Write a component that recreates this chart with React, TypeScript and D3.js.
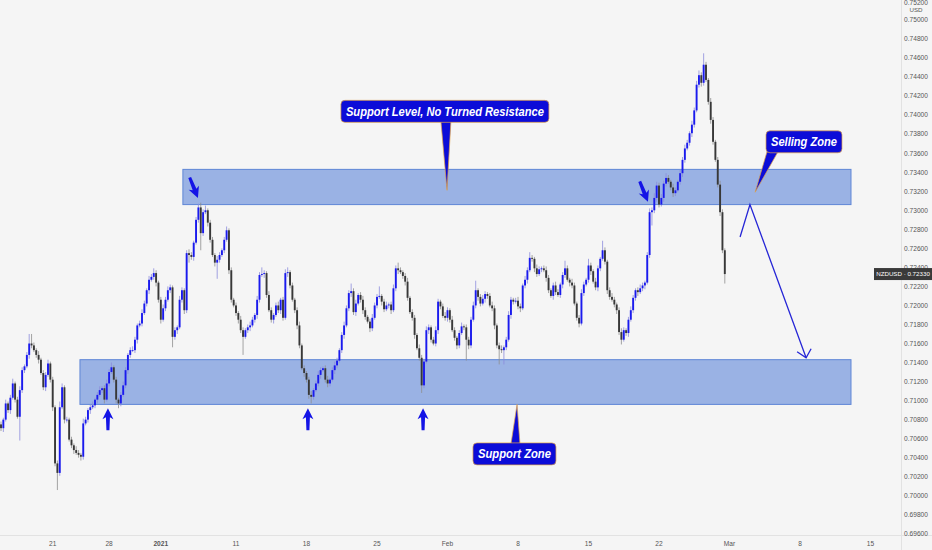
import * as d3 from "d3";
import React, { useRef, useEffect } from "react";

// NZDUSD 4H candles, closes in pips (0.0001)
const firstOpen = 7075;
const closePips = [
  7071, 7080, 7097, 7090, 7103, 7118, 7101, 7083, 7111, 7132,
  7136, 7148, 7160, 7158, 7153, 7148, 7143, 7129, 7114, 7127,
  7139, 7122, 7093, 7034, 7024, 7093, 7114, 7080, 7080, 7059,
  7053, 7048, 7045, 7043, 7041, 7076, 7080, 7090, 7093, 7095,
  7101, 7106, 7111, 7113, 7101, 7118, 7130, 7135, 7122, 7101,
  7097, 7106, 7116, 7132, 7148, 7153, 7153, 7164, 7179, 7181,
  7192, 7202, 7216, 7227, 7230, 7234, 7224, 7206, 7185, 7197,
  7206, 7216, 7219, 7167, 7174, 7177, 7206, 7216, 7195, 7255,
  7253, 7251, 7266, 7290, 7303, 7276, 7298, 7300, 7287, 7269,
  7253, 7245, 7248, 7253, 7258, 7269, 7279, 7237, 7206, 7200,
  7192, 7185, 7174, 7167, 7174, 7177, 7179, 7185, 7190, 7206,
  7232, 7233, 7234, 7211, 7195, 7185, 7190, 7200, 7195, 7206,
  7187, 7234, 7235, 7221, 7206, 7195, 7179, 7158, 7134, 7129,
  7122, 7106, 7104, 7111, 7118, 7127, 7132, 7134, 7122, 7118,
  7122, 7132, 7137, 7142, 7153, 7169, 7179, 7197, 7213, 7215,
  7193, 7202, 7211, 7206, 7195, 7188, 7183, 7176, 7187, 7200,
  7209, 7210, 7204, 7196, 7200, 7201, 7195, 7218, 7239, 7237,
  7235, 7231, 7225, 7208, 7193, 7187, 7169, 7155, 7145, 7116,
  7141, 7174, 7177, 7164, 7160, 7174, 7204, 7199, 7189, 7187,
  7195, 7185, 7174, 7166, 7158, 7171, 7178, 7177, 7164, 7158,
  7185, 7200, 7216, 7209, 7202, 7207, 7212, 7210, 7200, 7197,
  7179, 7158, 7154, 7153, 7156, 7164, 7190, 7206, 7204, 7205,
  7199, 7197, 7221, 7227, 7237, 7250, 7249, 7239, 7233, 7238,
  7239, 7237, 7229, 7216, 7210, 7221, 7214, 7211, 7222, 7232,
  7239, 7227, 7224, 7221, 7202, 7187, 7181, 7213, 7222, 7227,
  7242, 7236, 7225, 7219, 7239, 7249, 7258, 7246, 7216, 7209,
  7206, 7201, 7195, 7172, 7164, 7174, 7171, 7185, 7195, 7208,
  7216, 7214, 7218, 7221, 7224, 7253, 7298, 7300, 7313, 7326,
  7306, 7313, 7328, 7334, 7330, 7324, 7318, 7321, 7330, 7339,
  7353, 7365, 7371, 7381, 7390, 7405, 7432, 7442, 7434, 7453,
  7437, 7414, 7395, 7372, 7353, 7327, 7298, 7258, 7233,
];
const wickUpPips = [
  3, 2, 4, 2, 3, 5, 2, 3, 4, 3,
  2, 3, 10, 10, 3, 2, 4, 2, 3, 3,
  4, 2, 3, 2, 3, 6, 4, 2, 3, 2,
  3, 2, 4, 3, 2, 5, 3, 2, 3, 4,
  2, 3, 4, 2, 3, 4, 3, 5, 2, 3,
  2, 3, 4, 3, 2, 3, 4, 3, 2, 3,
  4, 3, 2, 4, 3, 5, 3, 2, 3, 4,
  3, 4, 3, 2, 3, 2, 4, 3, 2, 3,
  4, 3, 2, 3, 4, 5, 3, 5, 2, 3,
  3, 2, 4, 3, 2, 3, 4, 2, 3, 2,
  3, 2, 4, 3, 2, 3, 4, 3, 2, 4,
  3, 7, 3, 2, 4, 3, 2, 3, 4, 2,
  3, 4, 5, 2, 3, 2, 3, 4, 2, 3,
  2, 3, 4, 2, 3, 4, 3, 2, 3, 4,
  2, 3, 4, 3, 2, 3, 4, 3, 3, 8,
  3, 4, 2, 3, 4, 3, 2, 3, 4, 3,
  3, 10, 2, 3, 4, 2, 3, 4, 3, 6,
  3, 2, 3, 4, 2, 3, 3, 2, 4, 3,
  3, 4, 3, 2, 3, 4, 3, 2, 3, 4,
  3, 2, 4, 3, 2, 3, 4, 2, 3, 3,
  3, 4, 10, 2, 3, 4, 3, 2, 3, 4,
  3, 2, 3, 4, 2, 3, 4, 3, 2, 3,
  4, 3, 2, 4, 3, 6, 3, 2, 4, 3,
  2, 3, 4, 3, 2, 3, 4, 3, 2, 3,
  8, 3, 2, 4, 3, 2, 3, 4, 3, 2,
  7, 3, 2, 4, 3, 2, 10, 3, 2, 3,
  4, 3, 2, 3, 4, 3, 2, 3, 4, 3,
  2, 3, 4, 3, 2, 3, 4, 3, 5, 4,
  3, 4, 3, 5, 3, 2, 4, 3, 2, 4,
  3, 4, 3, 2, 4, 3, 4, 5, 3, 12,
  3, 2, 4, 3, 2, 3, 4, 3, 2,
];
const wickDownPips = [
  3, 4, 2, 3, 4, 2, 3, 2, 25, 3,
  3, 2, 4, 3, 2, 3, 4, 2, 3, 4,
  2, 3, 4, 3, 18, 3, 2, 4, 3, 2,
  3, 4, 2, 3, 4, 3, 2, 3, 4, 2,
  3, 4, 2, 3, 4, 2, 3, 2, 3, 4,
  5, 3, 2, 3, 4, 3, 2, 3, 4, 2,
  3, 2, 3, 4, 2, 3, 4, 3, 4, 2,
  3, 2, 3, 11, 3, 4, 2, 3, 4, 3,
  8, 3, 4, 2, 3, 18, 3, 2, 4, 3,
  2, 4, 17, 3, 2, 3, 2, 4, 3, 2,
  3, 4, 3, 19, 2, 3, 4, 2, 3, 4,
  3, 2, 4, 3, 2, 3, 4, 2, 3, 4,
  3, 2, 4, 3, 2, 3, 4, 3, 2, 4,
  3, 4, 7, 3, 2, 3, 4, 2, 3, 4,
  3, 2, 4, 3, 2, 3, 4, 2, 3, 4,
  3, 4, 2, 3, 4, 3, 2, 4, 3, 2,
  3, 2, 4, 3, 2, 3, 4, 2, 3, 4,
  2, 3, 4, 3, 2, 3, 4, 2, 3, 8,
  3, 2, 4, 3, 2, 3, 4, 3, 2, 3,
  4, 3, 2, 3, 4, 3, 2, 3, 22, 4,
  3, 2, 3, 4, 3, 2, 4, 3, 2, 3,
  4, 3, 16, 3, 15, 3, 2, 4, 3, 2,
  3, 4, 2, 3, 4, 2, 3, 4, 3, 2,
  3, 2, 4, 3, 2, 4, 3, 2, 3, 4,
  3, 2, 4, 3, 2, 3, 4, 2, 3, 2,
  3, 4, 2, 3, 4, 3, 2, 3, 4, 3,
  2, 3, 4, 3, 5, 2, 3, 4, 2, 3,
  3, 4, 2, 3, 4, 2, 3, 14, 3, 4,
  3, 2, 4, 3, 2, 3, 4, 3, 2, 3,
  4, 3, 2, 3, 4, 3, 2, 3, 4, 3,
  2, 3, 4, 3, 2, 3, 4, 3, 10,
];

// time axis: bar index of each label
const timeTickBars = [22, 46, 68, 100, 130, 160, 190, 220, 250, 280, 310, 340, 370];
const timeTickLabels = ["21", "28", "2021", "11", "18", "25", "Feb", "8", "15", "22", "Mar", "8", "15"];

const priceTicks = [
  0.696, 0.698, 0.7, 0.702, 0.704, 0.706, 0.708, 0.71, 0.712, 0.714,
  0.716, 0.718, 0.72, 0.722, 0.724, 0.726, 0.728, 0.73, 0.732, 0.734,
  0.736, 0.738, 0.74, 0.742, 0.744, 0.746, 0.748, 0.75, 0.752,
];
const lastPrice = 0.7233;

// zones (bar from / to, price high / low)
const zoneFrom = [77.4, 33.6];
const zoneTo = [361.7, 361.7];
const zoneHigh = [0.7343, 0.7143];
const zoneLow = [0.7306, 0.7096];

// marker arrows
const upArrowBars = [45.5, 130.6, 179.6];
const upArrowPrice = 0.7092;
const downArrowBars = [83.8, 275.3];
const downArrowPrices = [0.7313, 0.7309];

// projected path
const pathBars = [314.5, 318.7, 342.6];
const pathPrices = [0.7272, 0.7306, 0.7145];

const calloutTexts = ["Support Level, No Turned Resistance", "Selling Zone", "Support Zone"];
const calloutTipBars = [189.8, 320.9, 219.6];
const calloutTipPrices = [0.7321, 0.7319, 0.7096];
const calloutBoxBars = [188.9, 341.7, 218.5];
const calloutBoxPrices = [0.7404, 0.7372, 0.7044];

const BLUE = "#1a1aee";
const DOWN = "#383838";
const ARROW_PATH = "M0,0 L5.5,11 L2,9 L1.5,22 L-1.5,22 L-2,9 L-5.5,11 Z";

const drawChart = (node: any) => {
  const svg = d3.select(node);
  svg.selectAll("*").remove();

  const x = d3.scaleLinear().domain([0, 308]).range([1, 1 + 308 * 2.35]);
  const y = d3.scaleLinear().domain([0.696, 0.75]).range([533.8, 20]);

  svg.append("rect").attr("width", 932).attr("height", 550).attr("fill", "#f5f5f5");

  // zones
  zoneFrom.forEach((f, k) => {
    svg
      .append("rect")
      .attr("x", x(f))
      .attr("y", y(zoneHigh[k]))
      .attr("width", x(zoneTo[k]) - x(f))
      .attr("height", y(zoneLow[k]) - y(zoneHigh[k]))
      .attr("fill", "#9ab2e4")
      .attr("stroke", "#5f86d6")
      .attr("stroke-width", 1);
  });

  // candles
  const candles = closePips.map((c, i) => {
    const o = i === 0 ? firstOpen : closePips[i - 1];
    return {
      i,
      o: o / 10000,
      c: c / 10000,
      h: (Math.max(o, c) + wickUpPips[i]) / 10000,
      l: (Math.min(o, c) - wickDownPips[i]) / 10000,
    };
  });
  const cg = svg.append("g");
  cg.selectAll("line")
    .data(candles)
    .enter()
    .append("line")
    .attr("x1", (d: any) => x(d.i))
    .attr("x2", (d: any) => x(d.i))
    .attr("y1", (d: any) => y(d.h))
    .attr("y2", (d: any) => y(d.l))
    .attr("stroke", (d: any) => (d.c >= d.o ? "#8c8cdc" : "#8e8e8e"))
    .attr("stroke-width", 0.8);
  cg.selectAll("rect")
    .data(candles)
    .enter()
    .append("rect")
    .attr("x", (d: any) => x(d.i) - 0.95)
    .attr("width", 1.9)
    .attr("y", (d: any) => y(Math.max(d.o, d.c)))
    .attr("height", (d: any) => Math.max(0.8, Math.abs(y(d.o) - y(d.c))))
    .attr("fill", (d: any) => (d.c >= d.o ? BLUE : DOWN));

  // arrows
  upArrowBars.forEach((b) => {
    svg
      .append("path")
      .attr("d", ARROW_PATH)
      .attr("transform", `translate(${x(b)},${y(upArrowPrice)})`)
      .attr("fill", "#1414e6");
  });
  downArrowBars.forEach((b, k) => {
    svg
      .append("path")
      .attr("d", ARROW_PATH)
      .attr("transform", `translate(${x(b)},${y(downArrowPrices[k])}) rotate(158)`)
      .attr("fill", "#1414e6");
  });

  // projection
  const line = d3
    .line<number>()
    .x((b) => x(b))
    .y((_, k) => y(pathPrices[k]));
  svg
    .append("path")
    .attr("d", line(pathBars))
    .attr("fill", "none")
    .attr("stroke", "#2626d6")
    .attr("stroke-width", 1.3);
  const tipX = x(pathBars[2]);
  const tipY = y(pathPrices[2]);
  svg
    .append("path")
    .attr("d", `M${tipX - 9},${tipY - 6} L${tipX},${tipY} L${tipX + 5},${tipY - 9}`)
    .attr("fill", "none")
    .attr("stroke", "#2626d6")
    .attr("stroke-width", 1.3);

  // callouts
  const boxW = [208, 76, 83];
  const boxH = 22;
  const tailBase = [
    [-4, 6],
    [-37, -26],
    [-3.5, 5.5],
  ];
  calloutTexts.forEach((t, k) => {
    const cx = x(calloutBoxBars[k]);
    const cy = y(calloutBoxPrices[k]);
    const tx = x(calloutTipBars[k]);
    const ty = y(calloutTipPrices[k]);
    const edgeY = ty > cy ? cy + boxH / 2 - 1 : cy - boxH / 2 + 1;
    svg
      .append("path")
      .attr("d", `M${cx + tailBase[k][0]},${edgeY} L${tx},${ty} L${cx + tailBase[k][1]},${edgeY} Z`)
      .attr("fill", "#0c0cd8")
      .attr("stroke", "#e3a446")
      .attr("stroke-width", 0.7);
    svg
      .append("rect")
      .attr("x", cx - boxW[k] / 2)
      .attr("y", cy - boxH / 2)
      .attr("width", boxW[k])
      .attr("height", boxH)
      .attr("rx", 4)
      .attr("fill", "#0c0cd8")
      .attr("stroke", "#e3a446")
      .attr("stroke-width", 0.7);
    svg
      .append("text")
      .attr("x", cx)
      .attr("y", cy + 4.3)
      .attr("text-anchor", "middle")
      .attr("fill", "#fff")
      .attr("font-family", "'Liberation Sans', Arial, sans-serif")
      .attr("font-weight", "bold")
      .attr("font-style", "italic")
      .attr("font-size", 12.5)
      .attr("textLength", boxW[k] - 10)
      .attr("lengthAdjust", "spacingAndGlyphs")
      .text(t);
  });

  // price axis
  svg.append("line").attr("x1", 901.5).attr("x2", 901.5).attr("y1", 0).attr("y2", 550).attr("stroke", "#e2e2e2");
  svg.append("line").attr("x1", 0).attr("x2", 932).attr("y1", 535.5).attr("y2", 535.5).attr("stroke", "#e2e2e2");
  const axisFont = "'Liberation Sans', Arial, sans-serif";
  svg
    .append("g")
    .selectAll("text")
    .data(priceTicks)
    .enter()
    .append("text")
    .attr("x", 916)
    .attr("y", (d: number) => Math.max(5.2, y(d) + 2.3))
    .attr("text-anchor", "middle")
    .attr("font-family", axisFont)
    .attr("font-size", 6.6)
    .attr("fill", "#555")
    .text((d: number) => d.toFixed(5));
  svg
    .append("text")
    .attr("x", 916)
    .attr("y", 11.5)
    .attr("text-anchor", "middle")
    .attr("font-family", axisFont)
    .attr("font-size", 6.2)
    .attr("fill", "#555")
    .text("USD");

  // last price label
  const ly = y(lastPrice);
  svg.append("rect").attr("x", 874).attr("y", ly - 6).attr("width", 58).attr("height", 12).attr("fill", "#3a3a3a");
  svg
    .append("text")
    .attr("x", 903)
    .attr("y", ly + 2.3)
    .attr("text-anchor", "middle")
    .attr("font-family", axisFont)
    .attr("font-size", 6.2)
    .attr("fill", "#fff")
    .text(`NZDUSD · ${lastPrice.toFixed(5)}`);

  // time axis
  svg
    .append("g")
    .selectAll("text")
    .data(timeTickBars)
    .enter()
    .append("text")
    .attr("x", (d: number) => x(d))
    .attr("y", 545.5)
    .attr("text-anchor", "middle")
    .attr("font-family", axisFont)
    .attr("font-size", 6.6)
    .attr("font-weight", (_: any, k: number) => (timeTickLabels[k] === "2021" ? "bold" : "normal"))
    .attr("fill", "#555")
    .text((_: any, k: number) => timeTickLabels[k]);
};

function App() {
  const ref = useRef<any>();
  useEffect(() => {
    drawChart(ref.current);
  }, []);
  return (
    <div style={{ position: "fixed", left: 0, top: 0 }}>
      <svg ref={ref} width={932} height={550} style={{ display: "block" }}></svg>
    </div>
  );
}

export default App;
